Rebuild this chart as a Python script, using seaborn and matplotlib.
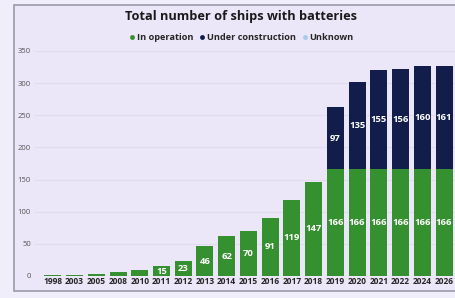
"""Stacked bar chart: total number of ships with batteries."""

import matplotlib.pyplot as plt
import pandas as pd
import seaborn as sns
from matplotlib.lines import Line2D
from matplotlib.patches import Rectangle

# --------------------------------------------------------------------------- #
# Data
# --------------------------------------------------------------------------- #
YEARS = ["1998", "2003", "2005", "2008", "2010", "2011", "2012", "2013", "2014",
         "2015", "2016", "2017", "2018", "2019", "2020", "2021", "2022", "2024", "2026"]
IN_OPERATION = [1, 2, 3, 7, 10, 15, 23, 46, 62, 70, 91, 119, 147,
                166, 166, 166, 166, 166, 166]
UNDER_CONSTRUCTION = [0, 0, 0, 0, 0, 0, 0, 0, 0, 0, 0, 0, 0,
                      97, 135, 155, 156, 160, 161]
UNKNOWN = [0] * len(YEARS)

SERIES = ["In operation", "Under construction", "Unknown"]
COLORS = ["#35902f", "#121d4b", "#a9c9ee"]
BG = "#ebe6f8"

df = pd.DataFrame({"year": YEARS, "op": IN_OPERATION,
                   "uc": UNDER_CONSTRUCTION, "unk": UNKNOWN})
df["op_uc"] = df["op"] + df["uc"]
df["total"] = df["op_uc"] + df["unk"]

sns.set_theme(style="white")
plt.rcParams["font.family"] = ["Open Sans", "DejaVu Sans"]

fig = plt.figure(figsize=(4.55, 2.98), dpi=100, facecolor="#f1eefc")
fig.add_artist(Rectangle((14 / 455, 7 / 298), 1.2, 286 / 298, transform=fig.transFigure,
                         facecolor=BG, edgecolor="#9c98ad", linewidth=1.2, zorder=0))
ax = fig.add_axes([35 / 455, 22 / 298, 421 / 455, 225 / 298])
ax.set_facecolor(BG)

# stack by overdrawing cumulative totals
bar_kw = dict(data=df, x="year", order=YEARS, width=0.78,
              saturation=1, linewidth=0, ax=ax, zorder=3)
for col, color in zip(["total", "op_uc", "op"], COLORS[::-1]):
    sns.barplot(**bar_kw, y=col, color=color)

# value labels in the middle of each segment
for i, row in df.iterrows():
    if row["op"] >= 15:
        ax.text(i, row["op"] / 2, f"{row['op']}", ha="center", va="center",
                color="white", fontsize=6.8, fontweight="bold", zorder=4)
    if row["uc"] > 0:
        ax.text(i, row["op"] + row["uc"] / 2, f"{row['uc']}", ha="center",
                va="center", color="white", fontsize=6.8, fontweight="bold", zorder=4)

ax.set_xlim(-0.82, len(YEARS) - 0.45)
ax.set_ylim(0, 350)
ax.set_yticks(range(0, 351, 50))
ax.yaxis.grid(True, color="#e0dbef", linewidth=0.8, zorder=0)
ax.set_axisbelow(True)
for s in ax.spines.values():
    s.set_visible(False)
ax.set_xlabel("")
ax.set_ylabel("")
ax.tick_params(axis="y", labelsize=5.5, labelcolor="#555555", pad=3, length=0)
ax.tick_params(axis="x", labelsize=6, pad=1, length=0)
for lab in ax.get_xticklabels():
    lab.set_fontweight("bold")

fig.text(0.53, 0.945, "Total number of ships with batteries", ha="center",
         va="center", fontsize=9.2, fontweight="bold", color="#1a1a1a")
handles = [Line2D([0], [0], marker="o", lw=0, markersize=3.5, markerfacecolor=c,
                  markeredgewidth=0) for c in COLORS]
leg = fig.legend(handles, SERIES, loc="center", bbox_to_anchor=(0.53, 0.875), ncol=3,
                 frameon=False, fontsize=6.6, handletextpad=0.1, columnspacing=0.6,
                 handlelength=0.8)
for t in leg.get_texts():
    t.set_fontweight("bold")

fig.savefig("out.png", dpi=100, facecolor=fig.get_facecolor())
